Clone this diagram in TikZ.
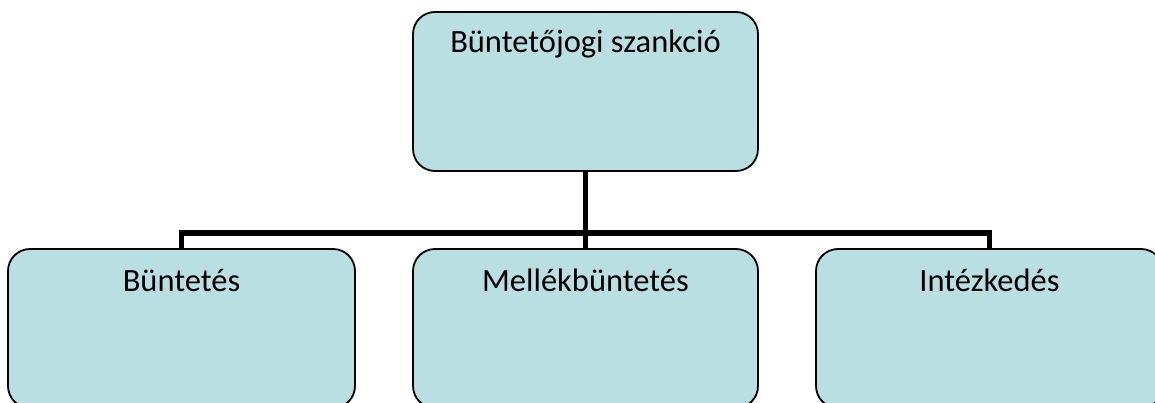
\documentclass[tikz,border=0pt]{standalone}
\usepackage{fontspec}
\setmainfont{Carlito}
\definecolor{boxfill}{RGB}{185,223,227}
\begin{document}
\begin{tikzpicture}[x=1pt,y=-1pt,
  box/.style={draw=black, line width=1.8pt, fill=boxfill, rounded corners=22pt,
    minimum width=#1, minimum height=159pt, inner sep=0pt, outer sep=0pt},
  lbl/.style={anchor=base, font=\fontsize{32.5}{38}\selectfont, inner sep=0pt},
  conn/.style={line width=5.5pt, draw=black, line join=miter}]
\useasboundingbox (0,0) rectangle (1155,403);
\clip (0,0) rectangle (1155,403);
\node[box=345pt] (top) at (585.5,91.5) {};
\node[box=347pt] (left) at (181.5,328.5) {};
\node[box=345pt] (mid) at (585.5,328.5) {};
\node[box=347pt] (right) at (989.5,328.5) {};
\node[lbl] (ttop) at ([yshift=-41pt]top.north) {Büntetőjogi szankció};
\node[lbl] (tleft) at ([yshift=-42pt]left.north) {Büntetés};
\node[lbl] (tmid) at ([yshift=-42pt]mid.north) {Mellékbüntetés};
\node[lbl] (tright) at ([yshift=-42pt]right.north) {Intézkedés};
\coordinate (barl) at (left.north |- 0,233);
\coordinate (barr) at (right.north |- 0,233);
\draw[conn] (top.south) -- (mid.north);
\draw[conn] (left.north) -- (barl) -- (barr) -- (right.north);
\end{tikzpicture}
\end{document}
